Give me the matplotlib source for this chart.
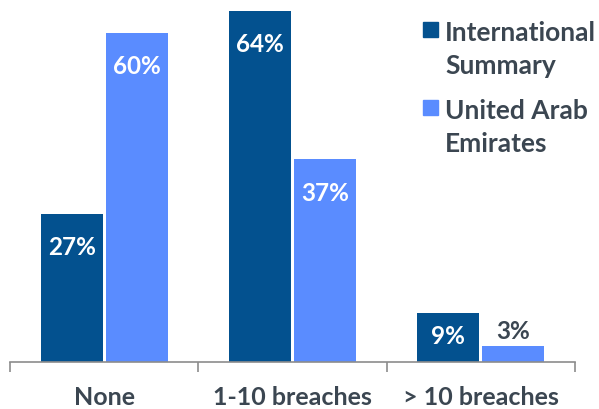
import numpy as np
import matplotlib.pyplot as plt
from matplotlib.patches import Rectangle

categories = ["None", "1-10 breaches", "> 10 breaches"]
series_names = ["International\nSummary", "United Arab\nEmirates"]
international = [27, 64, 9]
uae = [60, 37, 3]

DARK = "#03518f"
LIGHT = "#5a8cff"
TEXT = "#3b4651"
FONT = "Lato"

fig = plt.figure(figsize=(5.99, 4.10), dpi=100)
ax = fig.add_axes([10 / 599, 47 / 410, 565 / 599, 363 / 410])

x = np.arange(len(categories))
w = 0.33
gap = 0.008
b1 = ax.bar(x - w / 2 - gap, international, w, color=DARK)
b2 = ax.bar(x + w / 2 + gap, uae, w, color=LIGHT)

ax.set_xlim(-0.5, 2.5)
ax.set_ylim(0, 66.2)

# value labels
for bars, vals in ((b1, international), (b2, uae)):
    for rect, v in zip(bars, vals):
        cx = rect.get_x() + rect.get_width() / 2
        if v >= 20:
            ax.text(cx, v - 6, f"{v}%", ha="center", va="center", color="white",
                    fontsize=17.5, fontweight="bold", family=FONT)
        elif v >= 6:
            ax.text(cx, v - 4.1, f"{v}%", ha="center", va="center", color="white",
                    fontsize=17.5, fontweight="bold", family=FONT)
        else:
            ax.text(cx, v + 2.7, f"{v}%", ha="center", va="center", color=TEXT,
                    fontsize=17.5, fontweight="bold", family=FONT)

# axis styling
for s in ("top", "right", "left"):
    ax.spines[s].set_visible(False)
ax.spines["bottom"].set_color("#8c8c8c")
ax.spines["bottom"].set_linewidth(1.2)
ax.set_yticks([])
ax.set_xticks([-0.5, 0.5, 1.5, 2.5])
ax.set_xticklabels([])
ax.tick_params(axis="x", direction="out", length=7, width=1.2, color="#8c8c8c")

for i, c in enumerate(categories):
    ax.text(i, -0.094, c, transform=ax.get_xaxis_transform(), ha="center",
            va="center", color=TEXT, fontsize=18, fontweight="bold", family=FONT)

# legend drawn by hand
leg_y = [30 / 410, 108 / 410]
for name, col, y0 in zip(series_names, (DARK, LIGHT), leg_y):
    fig.add_artist(Rectangle((423 / 599, 1 - y0 - 8 / 410), 15 / 599, 15 / 410,
                             transform=fig.transFigure, color=col))
    fig.text(445 / 599, 1 - y0 + 9 / 410, name, ha="left", va="top", color=TEXT,
             fontsize=19, fontweight="bold", family=FONT, linespacing=1.45)

fig.savefig("out.png", dpi=100)
